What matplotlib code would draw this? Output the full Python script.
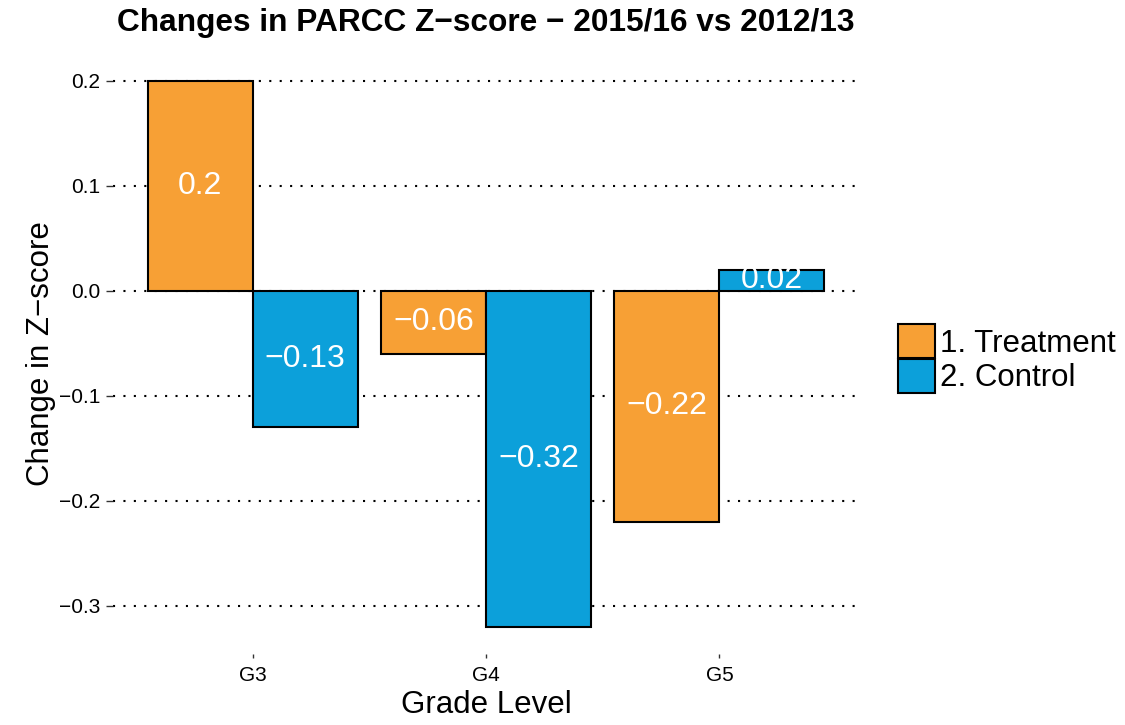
import numpy as np
import matplotlib.pyplot as plt
from matplotlib.patches import Patch

grades = ['G3', 'G4', 'G5']
treatment = [0.2, -0.06, -0.22]
control = [-0.13, -0.32, 0.02]
series_names = ['1. Treatment', '2. Control']
colors = ['#F7A035', '#0CA0DA']

plt.rcParams['font.family'] = ['Liberation Sans', 'DejaVu Sans']

fig = plt.figure(figsize=(11.25, 7.25), dpi=100)
ax = fig.add_axes([0.1, 0.098, 0.664, 0.828])

x = np.arange(1, len(grades) + 1)
w = 0.45
for vals, off, col in [(treatment, -w / 2, colors[0]), (control, w / 2, colors[1])]:
    ax.bar(x + off, vals, width=w, color=col, edgecolor='black', linewidth=1.5, zorder=3)
    for xi, v in zip(x + off, vals):
        ax.text(xi, v / 2, f'{v:g}'.replace('-', '\u2212'), color='white', fontsize=23,
                ha='center', va='center', zorder=4)

ax.set_xlim(0.4, 3.6)
ax.set_ylim(-0.346, 0.226)
ax.set_xticks(x)
ax.set_xticklabels(grades)
yt = [-0.3, -0.2, -0.1, 0.0, 0.1, 0.2]
ax.set_yticks(yt)
ax.set_yticklabels([f'{v:.1f}'.replace('-', '\u2212') for v in yt])
ax.tick_params(axis='both', labelsize=15, length=5, width=1, color='#333333')
ax.tick_params(axis='y', pad=4)
ax.tick_params(axis='x', length=3, pad=6)
ax.yaxis.grid(True, linestyle=(0, (1, 4)), color='black', linewidth=1.5, zorder=0)
for s in ax.spines.values():
    s.set_visible(False)

ax.set_ylabel('Change in Z\u2212score', fontsize=22.5, labelpad=2)
ax.set_xlabel('Grade Level', fontsize=22.5, labelpad=3)
ax.set_title('Changes in PARCC Z\u2212score \u2212 2015/16 vs 2012/13', fontsize=22.8,
             fontweight='bold', pad=16)

handles = [Patch(facecolor=c, edgecolor='black', linewidth=1.5) for c in colors]
fig.legend(handles, series_names, loc='center left', bbox_to_anchor=(0.798, 0.505),
           frameon=False, fontsize=22.5, handlelength=1.2, handleheight=1.3,
           handletextpad=0.15, labelspacing=0.0, borderaxespad=0, borderpad=0)

fig.savefig('out.png', dpi=100)
